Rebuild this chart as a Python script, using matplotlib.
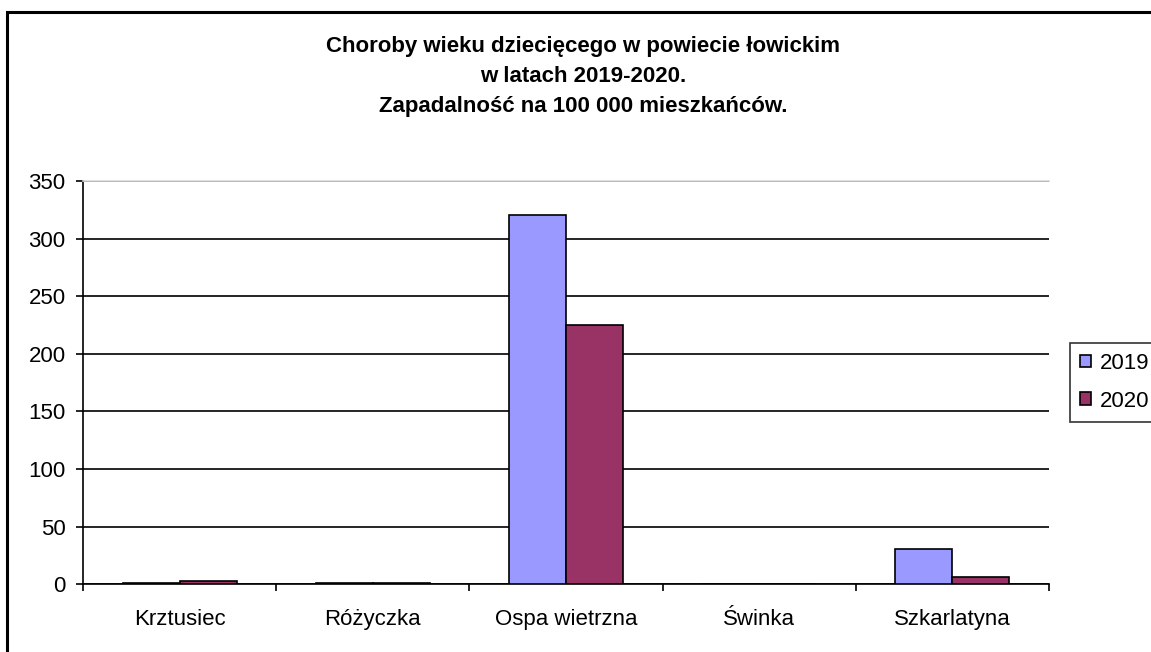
import matplotlib
matplotlib.use("Agg")
import matplotlib.pyplot as plt
import numpy as np
from matplotlib.patches import Rectangle

categories = ["Krztusiec", "Różyczka", "Ospa wietrzna", "Świnka", "Szkarlatyna"]
values_2019 = [1.4, 1.4, 320.5, 0, 31]
values_2020 = [3.1, 1.4, 225, 0, 6.6]
series_labels = ["2019", "2020"]
title = "Choroby wieku dziecięcego w powiecie łowickim\nw latach 2019-2020.\nZapadalność na 100 000 mieszkańców."
yticks = [0, 50, 100, 150, 200, 250, 300, 350]

plt.rcParams['font.family'] = ['Liberation Sans', 'DejaVu Sans']

W, H = 1151, 652
fig = plt.figure(figsize=(W / 100, H / 100), dpi=100)
fig.patch.set_facecolor("white")

# figure border (cut off at right/bottom like the reference)
fig.add_artist(Rectangle((7 / W, -0.1), 1.2, 1 - 12 / H + 0.1, transform=fig.transFigure,
                         fill=False, edgecolor="black", linewidth=2.2))

ax = fig.add_axes([83 / W, 1 - 584.3 / H, (1049 - 83) / W, (584.3 - 181) / H])

x = np.arange(len(categories))
bw = 0.295
b1 = ax.bar(x - bw / 2, values_2019, bw, color="#9999FF", edgecolor="black", linewidth=1.2,
            label=series_labels[0], zorder=3)
b2 = ax.bar(x + bw / 2, values_2020, bw, color="#993366", edgecolor="black", linewidth=1.2,
            label=series_labels[1], zorder=3)

ax.set_xlim(-0.5, len(categories) - 0.5)
ax.set_ylim(0, 350)
ax.set_yticks(yticks)
ax.set_yticklabels([str(v) for v in yticks], fontsize=16)
ax.set_xticks(x)
ax.set_xticklabels(categories, fontsize=16)
ax.tick_params(axis="x", which="major", length=0, pad=18)
ax.set_xticks(np.arange(len(categories) + 1) - 0.5, minor=True)
ax.tick_params(axis="x", which="minor", length=5, width=1.2, direction="out")
ax.tick_params(axis="y", length=5, width=1.2, direction="out", pad=7.5)

ax.yaxis.grid(True, color="black", linewidth=1.2, zorder=0)
ax.set_axisbelow(True)
for s in ["left", "bottom"]:
    ax.spines[s].set_color("black")
    ax.spines[s].set_linewidth(1.2)
ax.spines["right"].set_visible(False)
ax.spines["top"].set_color("#d9d9d9")
ax.spines["top"].set_linewidth(1.2)

fig.text(583 / W, 1 - 36 / H, title, ha="center", va="top", fontsize=16, fontweight="bold",
         linespacing=1.55)

leg = fig.legend(handles=[b1, b2], labels=series_labels, loc="upper left",
                 bbox_to_anchor=(1070 / W, 1 - 343 / H), fontsize=16, frameon=True,
                 fancybox=False, edgecolor="black", handlelength=0.5, handleheight=0.5,
                 handletextpad=0.4, labelspacing=0.75, borderpad=0.45, borderaxespad=0)
leg.get_frame().set_linewidth(1.2)

fig.savefig("out.png", dpi=100, facecolor="white")
